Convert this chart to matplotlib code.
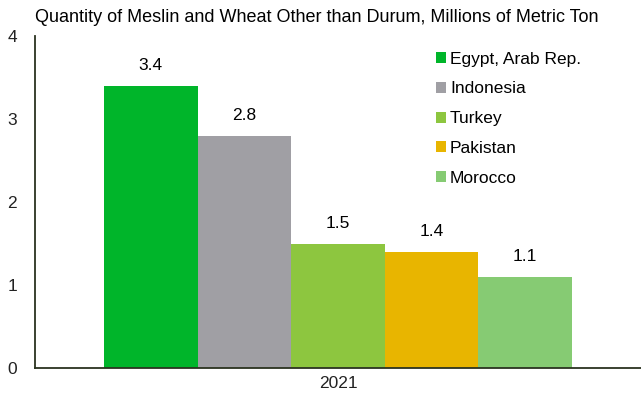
import numpy as np
import matplotlib.pyplot as plt

plt.rcParams['font.family'] = ['Liberation Sans', 'DejaVu Sans']

# Mengen je Land (Mio. t)
countries = ['Egypt, Arab Rep.', 'Indonesia', 'Turkey', 'Pakistan', 'Morocco']
values = [3.4, 2.8, 1.5, 1.4, 1.1]
colors = ['#00b52a', '#a09fa4', '#8dc63f', '#e8b500', '#86cb73']
year = '2021'

fig = plt.figure(figsize=(6.41, 3.94), dpi=100)
ax = fig.add_axes([35 / 641, 1 - 368 / 394, 606 / 641, 332 / 394])

width = 0.1545
offsets = (np.arange(len(values)) - (len(values) - 1) / 2) * width
for off, val, col, name in zip(offsets, values, colors, countries):
    ax.bar(off, val, width=width, color=col, label=name)
    ax.text(off, val + 0.15, f'{val:.1f}', ha='center', va='bottom', fontsize=12.5)

ax.set_xlim(-0.5, 0.5)
ax.set_ylim(0, 4)
ax.set_yticks([0, 1, 2, 3, 4])
ax.set_xticks([0])
ax.set_xticklabels([year])
ax.tick_params(length=0, labelsize=12.5, colors='#222222')
ax.tick_params(axis='y', pad=13)
ax.tick_params(axis='x', pad=6)
for s in ['top', 'right']:
    ax.spines[s].set_visible(False)
for s in ['left', 'bottom']:
    ax.spines[s].set_color('#2b3320')
    ax.spines[s].set_linewidth(1.3)

ax.legend(loc='upper left', bbox_to_anchor=(0.636, 1.0), frameon=False, fontsize=12.5,
          handlelength=0.6, handleheight=0.6, handletextpad=0.2, labelspacing=0.85)

fig.text(35 / 641, 1 - 18 / 394, 'Quantity of Meslin and Wheat Other than Durum, Millions of Metric Ton',
         fontsize=13, va='center', ha='left')

fig.savefig('out.png', dpi=100)
